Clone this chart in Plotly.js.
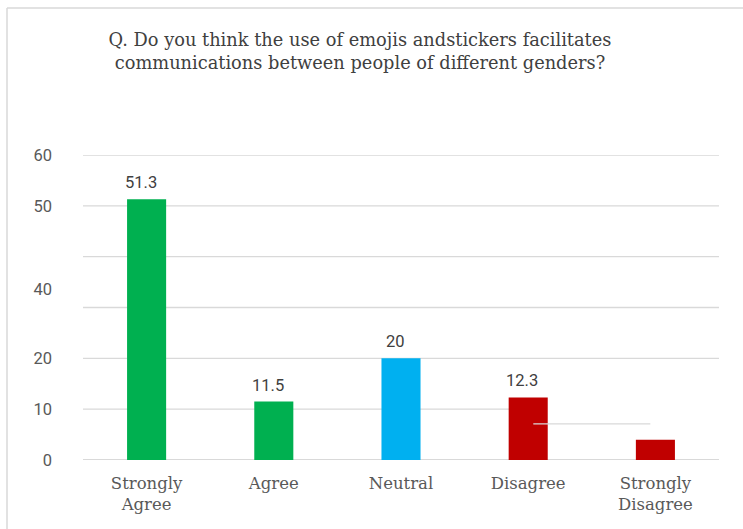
<!DOCTYPE html>
<html>
<head>
<meta charset="utf-8">
<script src="https://cdn.plot.ly/plotly-3.0.1.min.js"></script>
<style>html,body{margin:0;padding:0;background:#fff;}#chart{width:743px;height:529px;}</style>
</head>
<body>
<div id="chart"></div>
<script>
// ---- data ----
const categories = ["Strongly<br>Agree", "Agree", "Neutral", "Disagree", "Strongly<br>Disagree"];
const values = [51.3, 11.5, 20, 12.3, 4];
const valueLabels = ["51.3", "11.5", "20", "12.3", ""];
const barColors = ["#00B050", "#00B050", "#00B0F0", "#C00000", "#C00000"];
const yTickVals = [0, 10, 20, 33.5, 50, 60];
const yTickText = ["0", "10", "20", "40", "50", "60"];
const titleText = "Q. Do you think the use of emojis andstickers facilitates<br>communications between people of different genders?";

// ---- layout helpers ----
const gridColor = "#d9d9d9";
const fullGrid = [20, 30, 40, 50, 60];
const shapes = [];
fullGrid.forEach(v => shapes.push({type: "line", xref: "paper", yref: "y", x0: 0, x1: 1, y0: v, y1: v,
  line: {color: gridColor, width: 1.3}, layer: "below"}));
// partial gridline at 10 (ends at the Disagree bar)
shapes.push({type: "line", xref: "paper", yref: "y", x0: 0, x1: 0.67, y0: 10, y1: 10,
  line: {color: gridColor, width: 1.3}, layer: "below"});
// stray segment
shapes.push({type: "line", xref: "paper", yref: "y", x0: 0.708, x1: 0.892, y0: 7.1, y1: 7.1,
  line: {color: gridColor, width: 1.3}, layer: "above"});
// baseline
shapes.push({type: "line", xref: "paper", yref: "y", x0: 0, x1: 1, y0: 0, y1: 0,
  line: {color: gridColor, width: 2}, layer: "below"});
// outer frame (left and top edges)
shapes.push({type: "line", xref: "paper", yref: "paper", x0: -0.1195, x1: -0.1195, y0: 1.482, y1: -0.3,
  line: {color: "#d9d9d9", width: 1.5}});
shapes.push({type: "line", xref: "paper", yref: "paper", x0: -0.1195, x1: 1.2, y0: 1.482, y1: 1.482,
  line: {color: "#d9d9d9", width: 1.5}});

const annotations = categories.map((c, i) => ({
  x: c, y: values[i], xref: "x", yref: "y", text: valueLabels[i], showarrow: false,
  yanchor: "bottom", yshift: 5, xshift: -6,
  font: {family: "Roboto, 'Liberation Sans', sans-serif", size: 16.5, color: "#404040"}
}));

const trace = {
  type: "bar", x: categories, y: values, width: 0.307,
  marker: {color: barColors}, hoverinfo: "none"
};

const layout = {
  width: 743, height: 529,
  margin: {l: 83, r: 24, t: 155, b: 69},
  paper_bgcolor: "#ffffff", plot_bgcolor: "rgba(0,0,0,0)",
  showlegend: false,
  title: {text: titleText, x: 0.4845, xref: "container", xanchor: "center",
    y: 0.913, yref: "container", yanchor: "middle",
    font: {family: "'DejaVu Serif', serif", size: 17.8, color: "#404040"}},
  xaxis: {type: "category", range: [-0.5, 4.5], showgrid: false, zeroline: false, showline: false,
    ticks: "", ticklabelstandoff: 11,
    tickfont: {family: "'DejaVu Serif', serif", size: 16.5, color: "#595959"}},
  yaxis: {range: [0, 60], showgrid: false, zeroline: false, showline: false, ticks: "",
    tickvals: yTickVals, ticktext: yTickText, ticklabelstandoff: 30,
    tickfont: {family: "Roboto, 'Liberation Sans', sans-serif", size: 16.5, color: "#595959"}},
  shapes: shapes,
  annotations: annotations
};

Plotly.newPlot("chart", [trace], layout, {displayModeBar: false, staticPlot: true});
</script>
</body>
</html>
